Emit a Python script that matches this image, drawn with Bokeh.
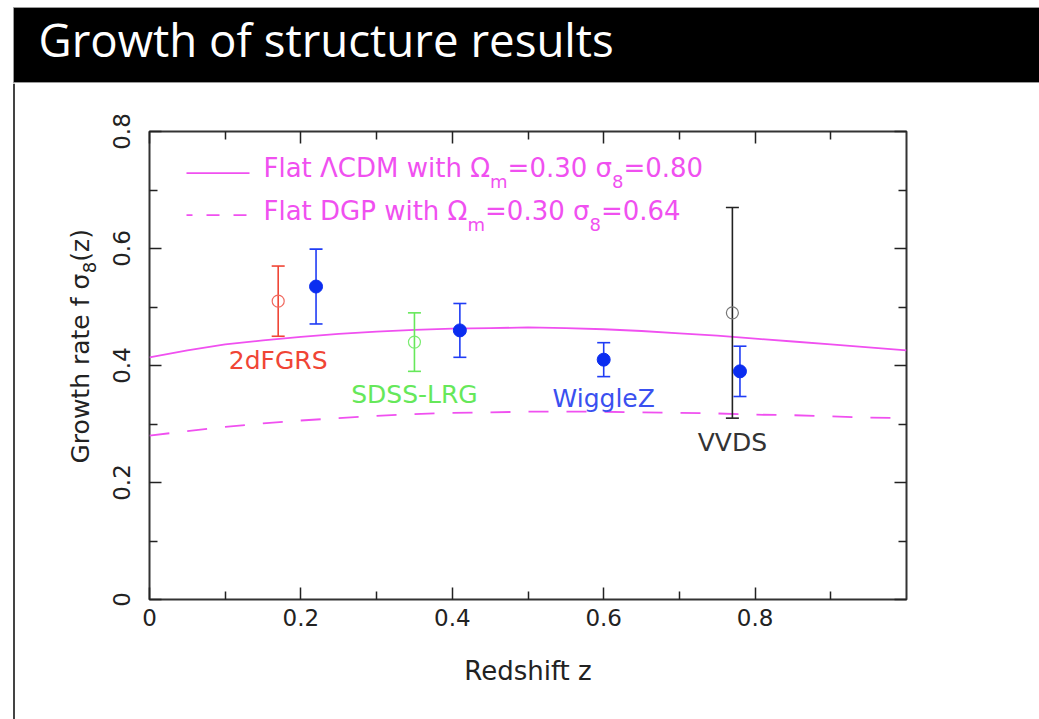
import numpy as np
from bokeh.plotting import figure
from bokeh.layouts import column, row
from bokeh.models import (Range1d, FixedTicker, CustomJSTickFormatter, LinearAxis,
                          Label, Arrow)
from bokeh.embed import file_html
from bokeh.resources import INLINE

# ---- model predictions for f*sigma8(z) ----
z_model = [0.00, 0.05, 0.10, 0.15, 0.20, 0.25, 0.30, 0.35, 0.40, 0.45, 0.50,
           0.55, 0.60, 0.65, 0.70, 0.75, 0.80, 0.85, 0.90, 0.95, 1.00]
lcdm_fs8 = [0.414, 0.426, 0.436, 0.443, 0.449, 0.454, 0.458, 0.461, 0.463, 0.464, 0.465,
            0.464, 0.462, 0.459, 0.455, 0.451, 0.446, 0.441, 0.436, 0.431, 0.426]
dgp_fs8 = [0.280, 0.288, 0.295, 0.301, 0.306, 0.310, 0.314, 0.317, 0.319, 0.320, 0.321,
           0.321, 0.321, 0.320, 0.319, 0.318, 0.316, 0.315, 0.313, 0.311, 0.310]

# ---- measurements ----
survey_names = ["2dFGRS", "SDSS-LRG", "VVDS"]
survey_z = [0.17, 0.35, 0.77]
survey_fs8 = [0.51, 0.44, 0.49]
survey_err = [0.06, 0.05, 0.18]
survey_colors = ["#f04535", "#66e85a", "#222222"]
survey_marker_colors = ["#f06a60", "#7aec70", "#777777"]
survey_label_colors = ["#f04535", "#66e85a", "#333333"]
survey_label_y = [0.391, 0.333, 0.251]

wigglez_z = [0.22, 0.41, 0.60, 0.78]
wigglez_fs8 = [0.535, 0.46, 0.41, 0.39]
wigglez_err = [0.064, 0.046, 0.029, 0.043]
wigglez_label_z = 0.60
wigglez_label_y = 0.327

x_ticks = [0.0, 0.2, 0.4, 0.6, 0.8]
x_minor = [0.1, 0.3, 0.5, 0.7, 0.9]
y_ticks = [0.0, 0.2, 0.4, 0.6, 0.8]
y_minor = [0.1, 0.3, 0.5, 0.7]

MAGENTA = "#f050f0"
BLUE = "#1f3cf5"
INK = "#222222"
FONT = "DejaVu Sans"

# DejaVu Sans advance widths (em) for laying out runs with subscripts
ADV = {"F": .575, "l": .278, "a": .613, "t": .392, " ": .318, "Λ": .684, "C": .698,
       "D": .770, "M": .863, "w": .818, "i": .278, "h": .634, "Ω": .765, "m": .974,
       "=": .838, ".": .318, "σ": .634, "G": .775, "P": .603, "(": .390, ")": .390,
       "z": .523, "r": .411, "o": .612, "e": .615, "f": .352}
for d in "0123456789":
    ADV[d] = .636

# baseline correction (in em) for alphabetic-anchored labels
LIFT = 0.4


def run_width(text, size):
    return sum(ADV[c] for c in text) * size


W, H = 1039, 719
HEAD_H = 83
STRIP_W = 101
BODY_H = H - HEAD_H
FL, FR, FT, FB = 149, 906, 131, 599   # plot frame edges on the page

# ---- slide header ----
head = figure(width=W, height=HEAD_H, x_range=Range1d(0, W), y_range=Range1d(0, HEAD_H),
              min_border=0, x_axis_location=None, y_axis_location=None,
              output_backend="svg", toolbar_location=None)
head.grid.visible = False
head.outline_line_color = None
head.background_fill_color = "white"
head.border_fill_color = "white"
head.quad(left=13, right=W + 3, top=HEAD_H - 7, bottom=1, fill_color="black",
          line_color="#9a9a9a", line_width=1)
head.add_layout(Label(x=38, y=HEAD_H - 57, y_offset=LIFT * 45.6,
                      text="Growth of structure results",
                      text_font="Open Sans", text_font_size="45.6px", text_color="white",
                      text_baseline="alphabetic", text_align="left"))

# ---- left strip: slide border and y axis title ----
strip = figure(width=STRIP_W, height=BODY_H, x_range=Range1d(0, STRIP_W),
               y_range=Range1d(0, BODY_H), min_border=0,
               x_axis_location=None, y_axis_location=None,
               output_backend="svg", toolbar_location=None)
strip.grid.visible = False
strip.outline_line_color = None
strip.background_fill_color = "white"
strip.border_fill_color = "white"
strip.segment(x0=[13.5], y0=[0], x1=[13.5], y1=[BODY_H], line_color="#444444", line_width=2)

ytitle_runs = [("Growth rate f σ", False), ("8", True), ("(z)", False)]
ybase_x = 90
ypos = H - 463
for text, sub in ytitle_runs:
    size = 18 if sub else 25
    strip.add_layout(Label(x=ybase_x + (6 if sub else 0), y=ypos, x_offset=-LIFT * size,
                           text=text, angle=np.pi / 2,
                           text_font=FONT, text_font_size=f"{size}px", text_color=INK,
                           text_baseline="alphabetic", text_align="left"))
    ypos += run_width(text, size)

# ---- main plot ----
p = figure(width=W - STRIP_W, height=BODY_H, x_range=Range1d(0, 1.0), y_range=Range1d(0, 0.8),
           min_border_left=FL - STRIP_W, min_border_right=W - FR,
           min_border_top=FT - HEAD_H, min_border_bottom=H - FB,
           output_backend="svg", toolbar_location=None)
p.grid.visible = False
p.background_fill_color = "white"
p.border_fill_color = "white"
p.outline_line_color = "#333333"
p.outline_line_width = 2

label_fmt = CustomJSTickFormatter(code="return tick == 0 ? '0' : tick.toFixed(1);")
blank_fmt = CustomJSTickFormatter(code="return '';")


def style_axis(ax, ticks, minor, fmt):
    ax.ticker = FixedTicker(ticks=ticks, minor_ticks=minor)
    ax.formatter = fmt
    ax.axis_line_color = None
    ax.major_tick_in = 12
    ax.major_tick_out = 0
    ax.minor_tick_in = 8
    ax.minor_tick_out = 0
    ax.major_tick_line_color = INK
    ax.minor_tick_line_color = INK
    ax.major_tick_line_width = 1.5
    ax.minor_tick_line_width = 1.5
    ax.major_label_text_font = FONT
    ax.major_label_text_font_size = "23px"
    ax.major_label_text_color = INK


xb = p.xaxis[0]
style_axis(xb, x_ticks, x_minor, label_fmt)
xb.major_label_standoff = 9
xb.axis_label = "Redshift z"
xb.axis_label_text_font = FONT
xb.axis_label_text_font_size = "26px"
xb.axis_label_text_font_style = "normal"
xb.axis_label_text_color = INK
xb.axis_label_standoff = 27

yl = p.yaxis[0]
style_axis(yl, y_ticks, y_minor, label_fmt)
yl.major_label_orientation = "vertical"
yl.major_label_standoff = 20

xt = LinearAxis()
style_axis(xt, x_ticks, x_minor, blank_fmt)
p.add_layout(xt, "above")
yr = LinearAxis()
style_axis(yr, y_ticks, y_minor, blank_fmt)
p.add_layout(yr, "right")

# model curves
p.line(z_model, lcdm_fs8, line_color=MAGENTA, line_width=1.8)
p.line(z_model, dgp_fs8, line_color=MAGENTA, line_width=1.8, line_dash="20 18")

# survey points with error bars
s_lo = [v - e for v, e in zip(survey_fs8, survey_err)]
s_hi = [v + e for v, e in zip(survey_fs8, survey_err)]
p.segment(survey_z, s_lo, survey_z, s_hi, line_color=survey_colors, line_width=1.6)
p.scatter(survey_z + survey_z, s_lo + s_hi, marker="dash", size=13,
          line_color=survey_colors + survey_colors, line_width=1.6)
p.scatter(survey_z, survey_fs8, marker="circle", size=12, fill_color=None,
          line_color=survey_marker_colors, line_width=1.2)

w_lo = [v - e for v, e in zip(wigglez_fs8, wigglez_err)]
w_hi = [v + e for v, e in zip(wigglez_fs8, wigglez_err)]
p.segment(wigglez_z, w_lo, wigglez_z, w_hi, line_color=BLUE, line_width=1.6)
p.scatter(wigglez_z + wigglez_z, w_lo + w_hi, marker="dash", size=13,
          line_color=BLUE, line_width=1.6)
p.scatter(wigglez_z, wigglez_fs8, marker="circle", size=13, fill_color="#0b2df0",
          line_color="#0b2df0")

# survey names
for name, z, y, c in zip(survey_names, survey_z, survey_label_y, survey_label_colors):
    p.add_layout(Label(x=z, y=y, y_offset=LIFT * 25, text=name, text_align="center",
                       text_baseline="alphabetic",
                       text_font=FONT, text_font_size="25px", text_color=c))
p.add_layout(Label(x=wigglez_label_z, y=wigglez_label_y, y_offset=LIFT * 25, text="WiggleZ",
                   text_align="center", text_baseline="alphabetic", text_font=FONT,
                   text_font_size="25px", text_color="#3a50f0"))


def sx(cx):
    return cx - FL


def sy(cy):
    return FB - cy


# legend: line samples
for ly, dash, offset in [(172.6, "solid", 0), (214.7, "13 14", 7)]:
    p.add_layout(Arrow(start=None, end=None, x_start=sx(186), y_start=sy(ly),
                       x_end=sx(249), y_end=sy(ly), start_units="screen", end_units="screen",
                       line_color=MAGENTA, line_width=1.8, line_dash=dash,
                       line_dash_offset=offset))

# legend: text runs with subscripts
legend_rows = [
    (178.3, [("Flat ΛCDM with Ω", False), ("m", True), ("=0.30 σ", False),
             ("8", True), ("=0.80", False)]),
    (221.0, [("Flat DGP with Ω", False), ("m", True), ("=0.30 σ", False),
             ("8", True), ("=0.64", False)]),
]
for base, runs in legend_rows:
    cx = 263
    for text, sub in runs:
        size = 18 if sub else 26
        p.add_layout(Label(x=sx(cx), y=sy(base + (10 if sub else 0)) + LIFT * size,
                           x_units="screen", y_units="screen", text=text,
                           text_align="left", text_baseline="alphabetic",
                           text_font=FONT, text_font_size=f"{size}px", text_color=MAGENTA))
        cx += run_width(text, size)

# the strip sits in its own column so its frame keeps the full body height
page = column(head, row(column(strip, spacing=0), p, spacing=0), spacing=0)
open("out.html", "w").write(file_html(page, INLINE))
